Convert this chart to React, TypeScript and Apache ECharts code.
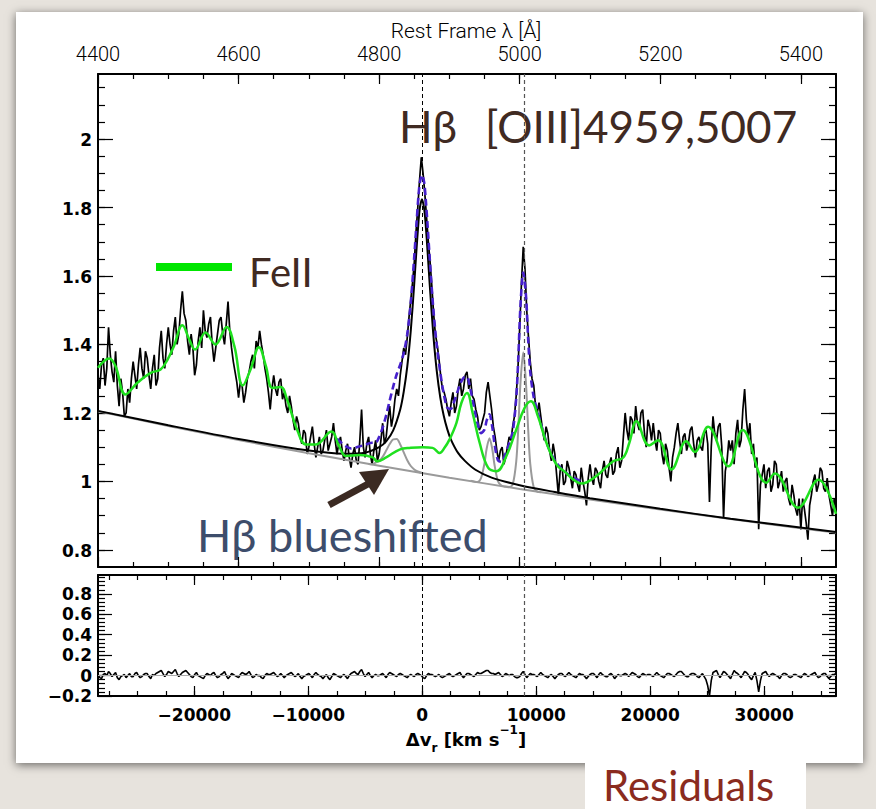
import React, { useEffect, useRef } from 'react';
import * as echarts from 'echarts';

// ---------- constants of the spectrum ----------
const C_KMS = 299792.458;
const HBETA = 4861.33;
const OIII5007 = 5006.84;
const WAVE_MIN = 4400;
const WAVE_MAX = 5450;
const STEP = 2.5;

// observed flux at 4400, 4405, ... Å
const OBS_FLUX_A = [
  1.31, 1.34, 1.28, 1.45, 1.32, 1.38, 1.22, 1.26, 1.20, 1.23,
  1.35, 1.27, 1.39, 1.30, 1.36, 1.27, 1.37, 1.30, 1.44, 1.33,
  1.45, 1.37, 1.48, 1.43, 1.555, 1.47, 1.37, 1.39, 1.34, 1.45,
  1.50, 1.42, 1.48, 1.35, 1.43, 1.48, 1.40, 1.525, 1.39, 1.32,
  1.245, 1.28, 1.26, 1.32, 1.37, 1.41, 1.44, 1.37, 1.30, 1.21,
  1.31, 1.25, 1.30, 1.26, 1.20, 1.22, 1.15, 1.17, 1.11, 1.14,
  1.10, 1.16, 1.07, 1.13, 1.09, 1.15, 1.11, 1.17, 1.08, 1.13,
  1.06, 1.11, 1.04, 1.10, 1.05, 1.21, 1.07, 1.13, 1.05, 1.12,
  1.08, 1.17, 1.13, 1.22, 1.19, 1.27, 1.31, 1.39, 1.42, 1.53,
  1.64, 1.80, 1.947, 1.84, 1.70, 1.57, 1.43, 1.36, 1.27, 1.24,
  1.19, 1.26, 1.22, 1.30, 1.27, 1.32, 1.30, 1.24, 1.19, 1.16,
  1.20, 1.29, 1.21, 1.13, 1.06, 1.10, 1.07, 1.13, 1.16, 1.25,
  1.45, 1.685, 1.50, 1.35, 1.28, 1.20, 1.19, 1.12, 1.14, 1.06,
  1.08, 0.96, 1.05, 1.00, 1.04, 0.98, 1.02, 0.97, 1.00, 0.93,
  1.05, 0.99, 1.03, 0.98, 1.06, 1.01, 1.07, 1.03, 1.10, 1.06,
  1.20, 1.12, 1.18, 1.22, 1.15, 1.21, 1.10, 1.16, 1.17, 1.09,
  1.14, 1.05, 1.09, 1.00, 1.10, 1.17, 1.08, 1.14, 1.11, 1.16,
  1.07, 1.13, 1.09, 1.15, 0.94, 1.19, 1.12, 1.17, 0.89, 1.06,
  1.09, 1.05, 1.18, 1.12, 1.27, 1.13, 1.08, 1.04, 0.86, 1.02,
  0.98, 1.04, 0.99, 1.05, 1.00, 0.97, 1.01, 0.93, 0.96, 0.90,
  0.86, 0.92, 0.83, 0.96, 1.02, 0.99, 1.03, 0.97, 0.96, 0.90,
  0.92,
];

// observed flux at 4402.5, 4407.5, ... Å
const OBS_FLUX_B = [
  1.27, 1.36, 1.33, 1.37, 1.29, 1.28, 1.30, 1.19, 1.27, 1.30,
  1.31, 1.34, 1.33, 1.38, 1.31, 1.33, 1.28, 1.39, 1.36, 1.40,
  1.40, 1.44, 1.40, 1.50, 1.49, 1.41, 1.43, 1.31, 1.41, 1.39,
  1.44, 1.46, 1.40, 1.39, 1.47, 1.43, 1.46, 1.44, 1.35, 1.29,
  1.29, 1.23, 1.30, 1.35, 1.33, 1.39, 1.40, 1.33, 1.26, 1.27,
  1.27, 1.29, 1.24, 1.22, 1.25, 1.18, 1.19, 1.13, 1.15, 1.08,
  1.13, 1.11, 1.10, 1.08, 1.12, 1.09, 1.13, 1.12, 1.11, 1.09,
  1.09, 1.07, 1.08, 1.06, 1.12, 1.10, 1.11, 1.08, 1.09, 1.06,
  1.12, 1.11, 1.18, 1.16, 1.24, 1.25, 1.35, 1.37, 1.48, 1.58,
  1.73, 1.88, 1.90, 1.77, 1.64, 1.49, 1.40, 1.31, 1.26, 1.21,
  1.23, 1.20, 1.27, 1.25, 1.31, 1.27, 1.25, 1.21, 1.15, 1.18,
  1.26, 1.25, 1.16, 1.09, 1.09, 1.05, 1.10, 1.12, 1.19, 1.33,
  1.58, 1.62, 1.42, 1.30, 1.22, 1.23, 1.15, 1.16, 1.09, 1.11,
  1.02, 1.03, 0.99, 1.06, 1.01, 1.03, 0.99, 1.04, 0.97, 1.01,
  1.01, 1.04, 1.00, 1.03, 1.02, 1.05, 1.02, 1.08, 1.04, 1.13,
  1.15, 1.19, 1.14, 1.17, 1.20, 1.14, 1.18, 1.12, 1.12, 1.15,
  1.08, 1.11, 1.04, 1.07, 1.14, 1.12, 1.13, 1.09, 1.15, 1.11,
  1.12, 1.10, 1.14, 1.11, 1.10, 1.14, 1.16, 1.10, 1.03, 1.12,
  1.12, 1.14, 1.10, 1.21, 1.18, 1.17, 1.11, 1.07, 0.99, 1.05,
  1.03, 0.97, 1.06, 0.98, 1.03, 1.00, 0.95, 0.99, 0.92, 0.95,
  0.95, 0.88, 0.93, 1.00, 0.97, 1.04, 0.98, 1.01, 0.93, 0.95,
];

// residuals at 4400, 4405, ... Å
const RESID_A = [
  0.01, -0.03, 0.02, 0.04, -0.01, 0.03, -0.04, 0.00, -0.02, 0.02,
  -0.01, 0.03, -0.02, 0.01, 0.02, -0.03, 0.00, 0.03, 0.05, -0.01,
  0.04, 0.02, 0.06, -0.01, 0.03, 0.05, 0.01, -0.02, 0.03, -0.01,
  -0.03, 0.02, 0.00, 0.03, -0.02, 0.01, 0.04, -0.03, 0.02, 0.00,
  -0.02, 0.03, 0.01, 0.04, -0.02, 0.01, 0.00, -0.03, 0.02, 0.01,
  0.03, -0.01, 0.02, -0.02, 0.01, 0.03, -0.01, 0.02, -0.03, 0.00,
  0.02, -0.02, 0.03, 0.00, -0.03, 0.01, -0.04, 0.02, 0.00, -0.02,
  0.01, -0.03, 0.02, 0.04, 0.01, 0.06, -0.01, 0.03, -0.02, 0.01,
  0.00, 0.02, -0.02, 0.03, 0.01, -0.01, 0.02, 0.00, -0.02, 0.01,
  -0.01, 0.02, 0.00, -0.03, 0.02, 0.01, -0.01, 0.01, -0.02, 0.00,
  0.02, -0.01, 0.01, 0.03, -0.02, 0.02, 0.01, -0.01, 0.03, 0.02,
  0.04, 0.05, 0.02, 0.01, 0.03, -0.01, 0.02, 0.00, 0.01, -0.02,
  -0.01, 0.04, -0.02, 0.02, 0.01, -0.01, 0.03, 0.00, -0.02, 0.01,
  -0.03, 0.01, 0.02, -0.01, 0.03, 0.00, -0.02, 0.02, 0.01, -0.03,
  0.01, 0.02, -0.02, 0.03, 0.00, -0.01, 0.02, -0.03, 0.01, 0.00,
  0.02, -0.01, 0.03, 0.01, -0.02, 0.02, 0.00, 0.01, -0.01, 0.03,
  0.00, -0.02, 0.02, 0.01, -0.01, 0.03, 0.04, 0.00, -0.01, 0.02,
  0.01, -0.02, 0.02, -0.04, -0.20, 0.03, 0.05, -0.02, 0.04, 0.01,
  -0.03, 0.05, 0.02, -0.02, 0.04, 0.01, -0.04, 0.03, -0.16, 0.02,
  0.04, -0.01, 0.02, 0.00, -0.03, 0.02, 0.01, -0.02, 0.01, 0.00,
  -0.02, 0.02, -0.01, 0.01, 0.03, -0.02, 0.01, 0.02, -0.03, 0.01,
  0.02,
];

// residuals at 4402.5, 4407.5, ... Å
const RESID_B = [
  -0.02, 0.01, 0.00, 0.02, 0.01, -0.02, -0.01, 0.01, 0.00, -0.01,
  0.02, 0.00, -0.01, 0.02, -0.01, 0.01, 0.02, 0.04, 0.02, 0.01,
  0.03, 0.04, 0.02, 0.01, 0.04, 0.03, -0.01, 0.01, 0.00, -0.02,
  0.00, 0.01, 0.02, 0.00, -0.01, 0.02, 0.00, -0.01, 0.01, -0.01,
  0.01, 0.02, 0.02, 0.01, -0.01, 0.00, -0.02, 0.00, 0.01, 0.02,
  0.01, 0.00, 0.00, 0.00, 0.02, 0.01, 0.00, -0.01, -0.01, 0.01,
  0.00, 0.01, 0.01, -0.01, -0.01, -0.02, -0.01, 0.01, -0.01, 0.00,
  -0.01, 0.00, 0.03, 0.02, 0.04, 0.02, 0.01, 0.00, 0.00, 0.00,
  0.01, 0.00, 0.01, 0.02, 0.00, 0.01, 0.01, -0.01, 0.00, 0.00,
  0.01, 0.01, -0.02, 0.00, 0.01, 0.00, 0.00, -0.01, -0.01, 0.01,
  0.00, 0.00, 0.02, 0.00, 0.00, 0.02, 0.00, 0.01, 0.02, 0.03,
  0.05, 0.03, 0.02, 0.02, 0.01, 0.00, 0.01, 0.01, -0.01, -0.02,
  0.02, 0.01, 0.00, 0.01, 0.00, 0.01, 0.01, -0.01, 0.00, -0.01,
  -0.01, 0.02, 0.00, 0.01, 0.01, -0.01, 0.00, 0.01, -0.01, -0.01,
  0.02, 0.00, 0.01, 0.01, -0.01, 0.01, 0.00, -0.01, 0.00, 0.01,
  0.01, 0.01, 0.02, -0.01, 0.00, 0.01, 0.01, 0.00, 0.01, 0.01,
  -0.01, 0.00, 0.02, 0.00, 0.01, 0.04, 0.02, -0.01, 0.01, 0.02,
  -0.01, 0.00, -0.01, -0.10, -0.05, 0.04, 0.01, 0.01, 0.03, -0.01,
  0.01, 0.03, 0.00, 0.01, 0.03, -0.02, 0.00, -0.05, -0.05, 0.03,
  0.01, 0.01, 0.01, -0.01, 0.00, 0.02, -0.01, -0.01, 0.01, -0.01,
  0.00, 0.01, 0.00, 0.02, 0.00, -0.01, 0.02, -0.01, -0.01, 0.01,
];

// model components [wavelength Å, flux]
const CONTINUUM = [
  [4400, 1.205], [4500, 1.162], [4600, 1.121], [4700, 1.082], [4800, 1.046], [4900, 1.011],
  [5000, 0.978], [5100, 0.947], [5200, 0.918], [5300, 0.890], [5400, 0.863], [5450, 0.851],
];

const HB_BROAD = [
  [4400, 1.206], [4500, 1.164], [4600, 1.124], [4700, 1.090], [4750, 1.081], [4780, 1.084],
  [4800, 1.100], [4810, 1.117], [4820, 1.149], [4830, 1.210], [4835, 1.262], [4840, 1.335],
  [4845, 1.440], [4850, 1.580], [4853, 1.673], [4856, 1.758], [4858, 1.800], [4861, 1.824],
  [4864, 1.797], [4866, 1.756], [4869, 1.669], [4872, 1.574], [4877, 1.431], [4882, 1.322],
  [4887, 1.245], [4892, 1.191], [4897, 1.152], [4902, 1.123], [4912, 1.084], [4922, 1.060],
  [4937, 1.034], [4960, 1.011], [5000, 0.989], [5050, 0.969], [5100, 0.951], [5200, 0.920],
  [5300, 0.891], [5450, 0.852],
];

const HB_BLUE = [
  [4785, 1.051], [4790, 1.050], [4795, 1.055], [4800, 1.060], [4805, 1.072], [4810, 1.090],
  [4815, 1.109], [4820, 1.123], [4825, 1.124], [4830, 1.108], [4835, 1.085], [4840, 1.062],
  [4845, 1.045], [4850, 1.035], [4855, 1.029], [4861, 1.025],
];

const OIII_LINES = [
  [4930, 1.002], [4940, 0.998], [4945, 1.010], [4950, 1.054], [4953, 1.096], [4957, 1.126],
  [4961, 1.094], [4964, 1.050], [4969, 1.001], [4974, 0.988], [4980, 0.985], [4985, 0.984],
  [4990, 0.991], [4995, 1.057], [4998, 1.157], [5001, 1.285], [5005, 1.377], [5009, 1.283],
  [5012, 1.153], [5015, 1.051], [5020, 0.982], [5025, 0.970], [5030, 0.968],
];

const FEII = [
  [4400, 1.332], [4416, 1.359], [4425, 1.336], [4439, 1.254], [4456, 1.288], [4475, 1.317],
  [4489, 1.327], [4499, 1.356], [4508, 1.395], [4520, 1.456], [4530, 1.414], [4538, 1.385],
  [4553, 1.435], [4567, 1.400], [4583, 1.451], [4594, 1.395], [4606, 1.280], [4617, 1.327],
  [4629, 1.392], [4639, 1.336], [4648, 1.273], [4660, 1.276], [4669, 1.239], [4684, 1.147],
  [4696, 1.108], [4710, 1.108], [4732, 1.146], [4743, 1.103], [4753, 1.074], [4772, 1.077],
  [4791, 1.070], [4797, 1.059], [4810, 1.070], [4829, 1.093], [4845, 1.098], [4862, 1.100],
  [4876, 1.098], [4886, 1.083], [4893, 1.098], [4900, 1.122], [4910, 1.171], [4917, 1.229],
  [4925, 1.258], [4933, 1.200], [4943, 1.113], [4955, 1.040], [4967, 1.030], [4981, 1.074],
  [4995, 1.151], [5007, 1.215], [5016, 1.234], [5026, 1.190], [5038, 1.113], [5052, 1.050],
  [5066, 1.025], [5076, 1.006], [5088, 0.994], [5109, 1.016], [5133, 1.059], [5147, 1.069],
  [5156, 1.113], [5166, 1.176], [5184, 1.105], [5197, 1.120], [5216, 1.035], [5237, 1.117],
  [5249, 1.086], [5268, 1.160], [5297, 1.044], [5317, 1.150], [5351, 0.996], [5363, 1.023],
  [5396, 0.923], [5425, 1.005], [5450, 0.905],
];

const TOTAL_FIT = [
  [4740, 1.125], [4760, 1.096], [4770, 1.101], [4780, 1.107], [4790, 1.113], [4795, 1.113],
  [4800, 1.130], [4805, 1.157], [4810, 1.193], [4815, 1.236], [4820, 1.277], [4825, 1.313],
  [4830, 1.341], [4835, 1.375], [4840, 1.430], [4845, 1.523], [4850, 1.658], [4853, 1.749],
  [4856, 1.835], [4858, 1.874], [4861, 1.895], [4864, 1.874], [4866, 1.832], [4869, 1.746],
  [4872, 1.650], [4877, 1.506], [4882, 1.397], [4887, 1.318], [4892, 1.255], [4897, 1.215],
  [4902, 1.212], [4907, 1.235], [4912, 1.265], [4917, 1.292], [4922, 1.305], [4925, 1.305],
  [4930, 1.268], [4935, 1.217], [4940, 1.169], [4945, 1.141], [4950, 1.152], [4953, 1.178],
  [4957, 1.196], [4961, 1.158], [4964, 1.112], [4969, 1.062], [4974, 1.057], [4980, 1.082],
  [4985, 1.111], [4990, 1.144], [4995, 1.242], [4998, 1.361], [5001, 1.510], [5005, 1.610],
  [5009, 1.540], [5012, 1.417], [5015, 1.321], [5020, 1.245], [5025, 1.208], [5030, 1.169],
  [5040, 1.103], [5050, 1.061], [5060, 1.036], [5075, 1.012], [5090, 0.999],
];

// tick labels
const WAVE_TICKS = [4400, 4600, 4800, 5000, 5200, 5400];
const VEL_TICKS = [-20000, -10000, 0, 10000, 20000, 30000];
const FLUX_TICKS = [0.8, 1, 1.2, 1.4, 1.6, 1.8, 2];
const RES_TICKS = [-0.2, 0, 0.2, 0.4, 0.6, 0.8];

const FLUX_MIN = 0.75;
const FLUX_MAX = 2.19;
const RES_MIN = -0.2;
const RES_MAX = 0.985;

function interleave(a: number[], b: number[]): number[][] {
  const out: number[][] = [];
  for (let i = 0; i < a.length; i++) {
    out.push([WAVE_MIN + 2 * STEP * i, a[i]]);
    if (i < b.length) out.push([WAVE_MIN + 2 * STEP * i + STEP, b[i]]);
  }
  return out;
}

export default function App() {
  const ref = useRef<HTMLDivElement>(null);

  useEffect(() => {
    if (!ref.current) return;
    const chart = echarts.init(ref.current, undefined, { renderer: 'svg' });

    const obs = interleave(OBS_FLUX_A, OBS_FLUX_B);
    const res = interleave(RESID_A, RESID_B);

    const VMIN = (C_KMS * (WAVE_MIN - HBETA)) / HBETA;
    const VMAX = (C_KMS * (WAVE_MAX - HBETA)) / HBETA;

    const waveMinor: number[] = [];
    for (let w = 4450; w < WAVE_MAX; w += 50) waveMinor.push(w);
    const velMinor: number[] = [];
    for (let v = -27500; v < VMAX; v += 2500) velMinor.push(v);
    const fluxMinor: number[] = [];
    for (let k = 80; k <= 215; k += 5) fluxMinor.push(k / 100);
    const resMinor: number[] = [];
    for (let k = -16; k <= 96; k += 4) resMinor.push(k / 100);

    const frame = { show: true, onZero: false, lineStyle: { color: '#000', width: 2 } };
    const noLine = { show: false, onZero: false };
    const tick = (vals: number[], len: number) => ({
      show: true, inside: true, length: len, customValues: vals,
      lineStyle: { color: '#000', width: 1.2 },
    });
    const noLabel = { show: false };
    const off = { show: false };
    const DJ = 'DejaVu Sans';
    const minus = (v: number) => (v < 0 ? '\u2212' + String(Math.abs(v)) : String(v));

    const topRect = { left: 98, top: 74, width: 738, height: 493, containLabel: false, outerBoundsMode: 'none' };
    const botRect = { left: 98, top: 575, width: 738, height: 121, containLabel: false, outerBoundsMode: 'none' };

    const wAx = { type: 'value', min: WAVE_MIN, max: WAVE_MAX, splitLine: off };
    const vAx = { type: 'value', min: VMIN, max: VMAX, splitLine: off };
    const fAx = { type: 'value', min: FLUX_MIN, max: FLUX_MAX, splitLine: off };
    const rAx = { type: 'value', min: RES_MIN, max: RES_MAX, splitLine: off };

    const vlines = {
      silent: true,
      symbol: ['none', 'none'],
      label: { show: false },
      animation: false,
      data: [
        { xAxis: HBETA, lineStyle: { color: '#000', type: [4, 3], width: 1 } },
        { xAxis: OIII5007, lineStyle: { color: '#555', type: [4, 3], width: 1.2 } },
      ],
    };

    const ttl = { fontFamily: 'Lato', fontSize: 44, fontWeight: 400 };

    const staticGraphics: any[] = [
      { type: 'text', x: 466, y: 31, silent: true,
        style: { text: 'Rest Frame λ [Å]', fontFamily: 'Roboto', fontWeight: 300, fontSize: 21, lineHeight: 21,
          fill: '#000', align: 'center', verticalAlign: 'middle' } },
      { type: 'text', x: 466, y: 739, silent: true,
        style: {
          text: '{a|Δv}{s|r}{a| [km s}{p|\u22121}{a|]}',
          align: 'center', verticalAlign: 'middle', fill: '#000',
          rich: {
            a: { fontFamily: DJ, fontWeight: 'bold', fontSize: 18, lineHeight: 30, fill: '#000' },
            s: { fontFamily: DJ, fontWeight: 'bold', fontSize: 12, verticalAlign: 'bottom', fill: '#000' },
            p: { fontFamily: DJ, fontWeight: 'bold', fontSize: 12, verticalAlign: 'top', fill: '#000' },
          },
        } },
      { type: 'text', x: 399, y: 126, silent: true,
        style: { ...ttl, text: 'Hβ', fill: '#402a22', align: 'left', verticalAlign: 'middle' } },
      { type: 'text', x: 485, y: 126, silent: true,
        style: { ...ttl, text: '[OIII]4959,5007', fill: '#402a22', align: 'left', verticalAlign: 'middle' } },
      { type: 'rect', silent: true, shape: { x: 156, y: 263, width: 76, height: 8 }, style: { fill: '#00e600' } },
      { type: 'text', x: 249, y: 272, silent: true,
        style: { ...ttl, fontSize: 40, text: 'FeII', fill: '#402a22', align: 'left', verticalAlign: 'middle' } },
      { type: 'line', silent: true, shape: { x1: 329, y1: 505, x2: 368, y2: 484 },
        style: { stroke: '#3b2a22', lineWidth: 7 } },
      { type: 'polygon', silent: true, shape: { points: [[359, 472], [389, 469], [374, 495]] },
        style: { fill: '#3b2a22' } },
      { type: 'text', x: 197, y: 535, silent: true,
        style: { ...ttl, fontSize: 45, text: 'Hβ blueshifted', fill: '#3d4d6b', align: 'left', verticalAlign: 'middle' } },
      { type: 'text', x: 603, y: 785, silent: true,
        style: { ...ttl, fontSize: 42, lineHeight: 40, text: 'Residuals', fill: '#8a2b1e', align: 'left', verticalAlign: 'middle' } },
    ];

    chart.setOption({
      animation: false,
      backgroundColor: 'transparent',
      grid: [topRect, topRect, botRect, botRect, botRect],
      xAxis: [
        { ...wAx, gridIndex: 0, position: 'top', axisLine: frame, axisTick: tick(WAVE_TICKS, 10),
          axisLabel: { customValues: WAVE_TICKS, fontFamily: 'Roboto', fontWeight: 300, fontSize: 20, lineHeight: 20,
            color: '#000', margin: 10, formatter: (v: number) => String(v) } },
        { ...wAx, gridIndex: 0, position: 'bottom', axisLine: frame, axisTick: tick(WAVE_TICKS, 10), axisLabel: noLabel },
        { ...wAx, gridIndex: 1, position: 'top', axisLine: noLine, axisTick: tick(waveMinor, 5), axisLabel: noLabel },
        { ...wAx, gridIndex: 1, position: 'bottom', axisLine: noLine, axisTick: tick(waveMinor, 5), axisLabel: noLabel },
        { ...vAx, gridIndex: 2, position: 'bottom', axisLine: frame, axisTick: tick(VEL_TICKS, 10), axisLabel: noLabel },
        { ...vAx, gridIndex: 2, position: 'top', axisLine: frame, axisTick: tick(VEL_TICKS, 10), axisLabel: noLabel },
        { ...vAx, gridIndex: 3, position: 'bottom', axisLine: noLine, axisTick: tick(velMinor, 5), axisLabel: noLabel },
        { ...vAx, gridIndex: 3, position: 'top', axisLine: noLine, axisTick: tick(velMinor, 5), axisLabel: noLabel },
        { ...wAx, gridIndex: 4, show: false },
      ],
      yAxis: [
        { ...fAx, gridIndex: 0, position: 'left', axisLine: frame, axisTick: tick(FLUX_TICKS, 15), axisLabel: noLabel },
        { ...fAx, gridIndex: 0, position: 'right', axisLine: frame, axisTick: tick(FLUX_TICKS, 15), axisLabel: noLabel },
        { ...fAx, gridIndex: 1, position: 'left', axisLine: noLine, axisTick: tick(fluxMinor, 7), axisLabel: noLabel },
        { ...fAx, gridIndex: 1, position: 'right', axisLine: noLine, axisTick: tick(fluxMinor, 7), axisLabel: noLabel },
        { ...rAx, gridIndex: 2, position: 'left', axisLine: frame, axisTick: tick(RES_TICKS, 14), axisLabel: noLabel },
        { ...rAx, gridIndex: 2, position: 'right', axisLine: frame, axisTick: tick(RES_TICKS, 14), axisLabel: noLabel },
        { ...rAx, gridIndex: 3, position: 'left', axisLine: noLine, axisTick: tick(resMinor, 7), axisLabel: noLabel },
        { ...rAx, gridIndex: 3, position: 'right', axisLine: noLine, axisTick: tick(resMinor, 7), axisLabel: noLabel },
        { ...rAx, gridIndex: 4, show: false },
      ],
      series: [
        { name: 'observed', type: 'line', xAxisIndex: 0, yAxisIndex: 0, data: obs, symbol: 'none',
          lineStyle: { color: '#000', width: 1.7 }, z: 2 },
        { name: 'continuum', type: 'line', xAxisIndex: 0, yAxisIndex: 0, data: CONTINUUM, symbol: 'none', smooth: 0.3,
          lineStyle: { color: '#9a9a9a', width: 2 }, z: 3, markLine: vlines },
        { name: 'Hβ blueshifted', type: 'line', xAxisIndex: 0, yAxisIndex: 0, data: HB_BLUE, symbol: 'none', smooth: 0.3,
          lineStyle: { color: '#9a9a9a', width: 2 }, z: 3 },
        { name: '[OIII]', type: 'line', xAxisIndex: 0, yAxisIndex: 0, data: OIII_LINES, symbol: 'none', smooth: 0.3,
          lineStyle: { color: '#9a9a9a', width: 2 }, z: 3 },
        { name: 'Hβ broad', type: 'line', xAxisIndex: 0, yAxisIndex: 0, data: HB_BROAD, symbol: 'none', smooth: 0.3,
          lineStyle: { color: '#000', width: 2 }, z: 4 },
        { name: 'total fit', type: 'line', xAxisIndex: 0, yAxisIndex: 0, data: TOTAL_FIT, symbol: 'none', smooth: 0.3,
          lineStyle: { color: '#4620cc', width: 2.6, type: [7, 4] }, z: 5 },
        { name: 'FeII', type: 'line', xAxisIndex: 0, yAxisIndex: 0, data: FEII, symbol: 'none', smooth: 0.4,
          lineStyle: { color: '#1fe01f', width: 2.5 }, z: 6 },
        { name: 'residuals', type: 'line', xAxisIndex: 8, yAxisIndex: 8, data: res, symbol: 'none',
          lineStyle: { color: '#000', width: 1.6 }, z: 3,
          markLine: {
            ...vlines,
            data: [
              ...vlines.data,
              { yAxis: 0, lineStyle: { color: '#aaaaaa', type: 'solid', width: 1 } },
            ],
          } },
      ],
      graphic: staticGraphics,
    } as any);

    // tick labels placed through the axes' own scales
    const lbl = (text: string, x: number, y: number, align: string) => ({
      type: 'text', x, y, silent: true,
      style: { text, fontFamily: DJ, fontWeight: 'bold', fontSize: 17, fill: '#000', align, verticalAlign: 'middle' },
    });
    const tickLabels: any[] = [];
    FLUX_TICKS.forEach((v) => {
      const y = chart.convertToPixel({ yAxisIndex: 0 } as any, v) as number;
      tickLabels.push(lbl(minus(v), 92, y + 1, 'right'));
    });
    RES_TICKS.forEach((v) => {
      const y = chart.convertToPixel({ yAxisIndex: 4 } as any, v) as number;
      tickLabels.push(lbl(minus(v), 92, y, 'right'));
    });
    VEL_TICKS.forEach((v) => {
      const x = chart.convertToPixel({ xAxisIndex: 4 } as any, v) as number;
      tickLabels.push(lbl(minus(v), x, 715, 'center'));
    });
    chart.setOption({ graphic: [...staticGraphics, ...tickLabels] } as any);

    return () => chart.dispose();
  }, []);

  return (
    <div style={{ position: 'fixed', left: 0, top: 0, width: 876, height: 809, background: '#e7e3dd', overflow: 'hidden' }}>
      <div style={{ position: 'absolute', left: 16, top: 12, width: 847, height: 751, background: '#fff',
        boxShadow: '0 2px 9px rgba(0,0,0,0.55)' }} />
      <div style={{ position: 'absolute', left: 585, top: 763, width: 221, height: 46, background: '#fff' }} />
      <div ref={ref} style={{ position: 'absolute', left: 0, top: 0, width: 876, height: 809 }} />
    </div>
  );
}
